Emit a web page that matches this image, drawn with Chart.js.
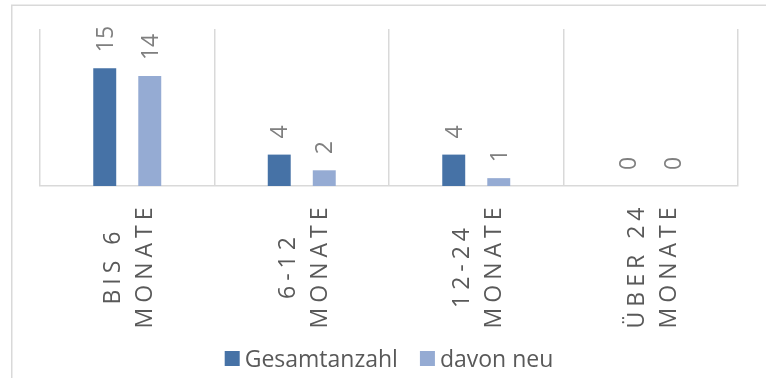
<!DOCTYPE html>
<html>
<head>
<meta charset="utf-8">
<script src="https://cdn.jsdelivr.net/npm/chart.js@4/dist/chart.umd.min.js"></script>
<style>
  html, body { margin: 0; padding: 0; background: #ffffff; }
  canvas { display: block; }
</style>
</head>
<body>
<canvas id="chart" width="766" height="378"></canvas>
<script>
// Categories (two lines each), series names and values
const categories = [["BIS 6", "MONATE"], ["6-12", "MONATE"], ["12-24", "MONATE"], ["ÜBER 24", "MONATE"]];
const seriesNames = ["Gesamtanzahl", "davon neu"];
const gesamtanzahl = [15, 4, 4, 0];
const davonNeu = [14, 2, 1, 0];
const valueRange = [0, 20];

const FONT_FAMILY = '"Open Sans", "Noto Sans", sans-serif';
const FONT_SIZE = 23;
const CAP = FONT_SIZE * 0.714;
const GRID = '#d9d9d9';
const colors = ['#4672a6', '#95abd3'];

// Frame, rotated value labels, rotated category labels and legend
const decorations = {
  id: 'decorations',
  afterDraw(chart) {
    const ctx = chart.ctx;
    const area = chart.chartArea;
    const xs = chart.scales.x;
    ctx.save();

    // outer frame (top and left edges)
    ctx.strokeStyle = GRID;
    ctx.lineWidth = 1.5;
    ctx.beginPath();
    ctx.moveTo(chart.width, 5.25);
    ctx.lineTo(11.75, 5.25);
    ctx.lineTo(11.75, chart.height);
    ctx.stroke();

    // value labels above bars, reading upward
    ctx.font = FONT_SIZE + 'px ' + FONT_FAMILY;
    ctx.fillStyle = '#7f7f7f';
    ctx.textAlign = 'left';
    ctx.textBaseline = 'alphabetic';
    chart.data.datasets.forEach((ds, di) => {
      chart.getDatasetMeta(di).data.forEach((bar, i) => {
        ctx.save();
        ctx.translate(bar.x, bar.y - 16);
        ctx.rotate(-Math.PI / 2);
        ctx.fillText(String(ds.data[i]), 0, CAP / 2);
        ctx.restore();
      });
    });

    // category labels, rotated, letter-spaced, centered lines
    ctx.fillStyle = '#595959';
    ctx.textAlign = 'center';
    const spacing = 5;
    ctx.letterSpacing = spacing + 'px';
    chart.data.labels.forEach((lines, i) => {
      const cx = xs.getPixelForValue(i);
      lines.forEach((line, j) => {
        const lx = cx + (j - (lines.length - 1) / 2) * 32 + 1;
        ctx.save();
        ctx.translate(lx, 268);
        ctx.rotate(-Math.PI / 2);
        ctx.fillText(line, spacing / 2, CAP / 2);
        ctx.restore();
      });
    });
    ctx.letterSpacing = '0px';

    // legend
    ctx.textAlign = 'left';
    const box = 15, boxGap = 5, itemGap = 22;
    const widths = chart.data.datasets.map(ds => ctx.measureText(ds.label).width);
    let total = 0;
    widths.forEach((w, k) => { total += box + boxGap + w + (k < widths.length - 1 ? itemGap : 0); });
    let x = (area.left + area.right) / 2 - total / 2;
    const baseY = 366.5;
    chart.data.datasets.forEach((ds, k) => {
      ctx.fillStyle = ds.backgroundColor;
      ctx.fillRect(x, 351, box, box);
      ctx.fillStyle = '#595959';
      ctx.fillText(ds.label, x + box + boxGap, baseY);
      x += box + boxGap + widths[k] + itemGap;
    });

    ctx.restore();
  }
};

new Chart(document.getElementById('chart'), {
  type: 'bar',
  data: {
    labels: categories,
    datasets: [
      { label: seriesNames[0], data: gesamtanzahl, backgroundColor: colors[0] },
      { label: seriesNames[1], data: davonNeu, backgroundColor: colors[1] }
    ]
  },
  options: {
    responsive: false,
    animation: false,
    devicePixelRatio: 1,
    events: [],
    categoryPercentage: 0.516,
    barPercentage: 0.51,
    layout: { padding: { left: 40, right: 28, top: 29, bottom: 0 } },
    plugins: {
      legend: { display: false },
      tooltip: { enabled: false }
    },
    scales: {
      x: {
        offset: true,
        grid: { color: GRID, lineWidth: 1.5, offset: true, drawTicks: false },
        border: { color: GRID, width: 1.5 },
        ticks: { display: false },
        afterFit: (scale) => { scale.height = 378 - 186; }
      },
      y: {
        display: false,
        min: valueRange[0],
        max: valueRange[1]
      }
    }
  },
  plugins: [decorations]
});
</script>
</body>
</html>
